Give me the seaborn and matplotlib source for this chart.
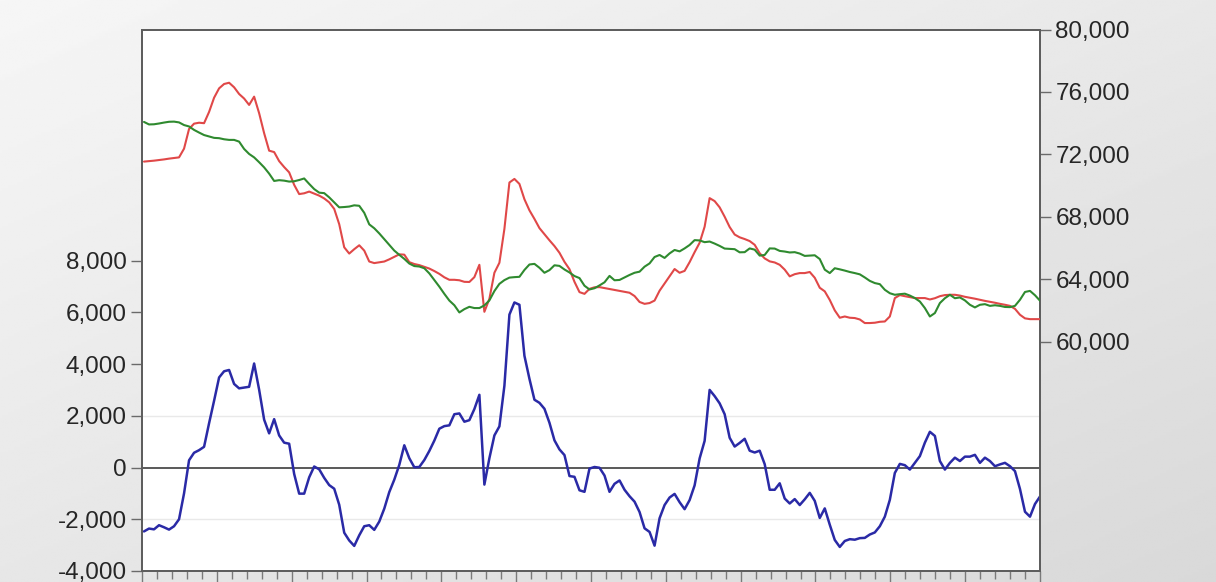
import numpy as np
import pandas as pd
import matplotlib
matplotlib.use("Agg")
import matplotlib.pyplot as plt
import seaborn as sns
from matplotlib.ticker import FuncFormatter, FixedLocator

sns.set_theme(style="white")
plt.rcParams["font.family"] = ["Liberation Sans", "DejaVu Sans"]

# Actual series (right axis)
actual = [
    71540, 71570, 71600, 71640, 71680, 71730, 71770, 71810, 72370, 73630,
    73970, 74030, 74000, 74720, 75630, 76230, 76510, 76590, 76300, 75870,
    75580, 75170, 75700, 74640, 73360, 72240, 72150, 71570, 71190, 70850,
    70050, 69460, 69510, 69620, 69490, 69360, 69180, 68930, 68510, 67530,
    66050, 65650, 65930, 66180, 65840, 65140, 65040, 65090, 65140, 65280,
    65440, 65600, 65580, 65100, 64980, 64910, 64800, 64690, 64530, 64350,
    64130, 63970, 63970, 63940, 63840, 63830, 64140, 64930, 61920, 62750,
    64420, 65060, 67230, 70200, 70430, 70110, 69130, 68420, 67870, 67280,
    66890, 66500, 66130, 65700, 65120, 64650, 63840, 63180, 63070, 63390,
    63490, 63500, 63440, 63380, 63320, 63260, 63200, 63140, 62930, 62550,
    62430, 62480, 62640, 63270, 63730, 64180, 64660, 64420, 64540, 65100,
    65740, 66340, 67370, 69200, 69010, 68610, 68010, 67350, 66870, 66690,
    66580, 66450, 66210, 65670, 65340, 65150, 65080, 64930, 64620, 64190,
    64330, 64400, 64400, 64470, 64100, 63460, 63230, 62680, 62010, 61540,
    61620, 61540, 61520, 61430, 61200, 61200, 61220, 61280, 61300, 61620,
    62800, 62990, 62920, 62860, 62800, 62800, 62800, 62710, 62790, 62920,
    62990, 63010, 63010, 62960, 62880, 62820, 62760, 62690, 62620, 62560,
    62500, 62430, 62370, 62300, 62110, 61730, 61500, 61450, 61450, 61450,
]

# Fitted series (right axis)
fitted = [
    74080, 73920, 73930, 73980, 74040, 74090, 74100, 74050, 73880, 73790,
    73570, 73400, 73240, 73150, 73060, 73040, 72970, 72930, 72930, 72820,
    72350, 72030, 71810, 71500, 71170, 70770, 70300, 70350, 70320, 70260,
    70280, 70360, 70460, 70110, 69780, 69550, 69520, 69250, 68930, 68610,
    68630, 68660, 68740, 68710, 68260, 67520, 67270, 66940, 66570, 66210,
    65840, 65570, 65310, 65010, 64850, 64820, 64710, 64380, 63960, 63530,
    63070, 62640, 62340, 61880, 62090, 62240, 62160, 62160, 62330, 62650,
    63250, 63710, 63950, 64110, 64140, 64160, 64600, 64950, 64990, 64740,
    64420, 64590, 64900, 64860, 64630, 64440, 64210, 64080, 63590, 63350,
    63430, 63610, 63810, 64220, 63940, 63960, 64120, 64280, 64420, 64490,
    64810, 65020, 65430, 65560, 65370, 65660, 65880, 65790, 65980, 66200,
    66510, 66490, 66380, 66420, 66290, 66140, 65970, 65950, 65930, 65730,
    65740, 65980, 65900, 65520, 65560, 65980, 65970, 65820, 65780, 65720,
    65740, 65650, 65500, 65520, 65540, 65300, 64620, 64400, 64710, 64640,
    64560, 64470, 64400, 64320, 64120, 63900, 63760, 63690, 63330, 63110,
    63010, 63050, 63080, 62960, 62800, 62580, 62160, 61620, 61840, 62480,
    62790, 63010, 62790, 62840, 62650, 62370, 62200, 62370, 62410, 62300,
    62340, 62300, 62230, 62220, 62300, 62690, 63190, 63260, 62980, 62630,
]

# Residual series (left axis)
residual = [
    -2470, -2360, -2390, -2230, -2310, -2400, -2270, -2000, -1000, 280,
    570, 670, 800, 1710, 2580, 3480, 3720, 3770, 3230, 3060,
    3090, 3120, 4020, 3010, 1850, 1320, 1870, 1240, 960, 920,
    -250, -1010, -1010, -380, 40, -70, -400, -680, -820, -1440,
    -2520, -2820, -3030, -2620, -2270, -2230, -2410, -2090, -1590, -950,
    -470, 100, 860, 360, 10, 20, 290, 640, 1040, 1500,
    1600, 1630, 2060, 2090, 1770, 1830, 2260, 2810, -660, 360,
    1240, 1590, 3160, 5910, 6380, 6290, 4320, 3430, 2620, 2500,
    2270, 1730, 1050, 700, 480, -330, -360, -880, -940, -40,
    20, -10, -310, -940, -630, -500, -860, -1110, -1320, -1720,
    -2350, -2490, -3020, -1960, -1450, -1160, -1020, -1340, -1610, -1260,
    -690, 350, 1030, 3000, 2760, 2480, 2060, 1150, 810, 950,
    1110, 650, 580, 650, 130, -860, -860, -610, -1200, -1390,
    -1220, -1450, -1230, -980, -1290, -1950, -1580, -2210, -2800, -3070,
    -2840, -2770, -2790, -2730, -2720, -2590, -2510, -2270, -1900, -1250,
    -210, 140, 90, -80, 180, 440, 960, 1380, 1220, 250,
    -80, 180, 380, 250, 420, 420, 490, 180, 380, 250,
    50, 120, 180, 50, -140, -830, -1710, -1900, -1410, -1120,
]

left_ticks = [-4000, -2000, 0, 2000, 4000, 6000, 8000]
right_ticks = [60000, 64000, 68000, 72000, 76000, 80000]
residual_bands = [-2000, 2000]

obs = np.arange(len(actual))
df = pd.DataFrame({"obs": obs, "Actual": actual, "Fitted": fitted, "Residual": residual})

W, H = 1216, 582
fig = plt.figure(figsize=(W / 100, H / 100), dpi=100)

# soft grey backdrop behind the plot frame
bg = fig.add_axes([0, 0, 1, 1], zorder=-10)
yy, xx = np.mgrid[0:1:200j, 0:1:400j]
shade = 0.965 - 0.055 * xx - 0.06 * yy
bg.imshow(shade, cmap="gray", vmin=0, vmax=1, aspect="auto",
          extent=[0, 1, 0, 1], origin="upper")
bg.axis("off")

ax = fig.add_axes([142 / W, 1 - 571 / H, (1040 - 142) / W, (571 - 29.5) / H])
ax.set_facecolor("white")
ax2 = ax.twinx()

frame_col = "#5e5e5e"
text_col = "#262626"
fmt = FuncFormatter(lambda v, p: f"{int(round(v)):,}")

# residual panel (left scale)
for b in residual_bands:
    ax.axhline(b, color="#e9e9e9", lw=1.0, zorder=0)
ax.axhline(0, color="#595959", lw=1.4, zorder=1)
sns.lineplot(data=df, x="obs", y="Residual", ax=ax, color="#2a2aa6",
             lw=1.8, zorder=3, legend=False)

# actual and fitted (right scale)
sns.lineplot(data=df, x="obs", y="Actual", ax=ax2, color="#e04848",
             lw=1.5, zorder=3, legend=False)
sns.lineplot(data=df, x="obs", y="Fitted", ax=ax2, color="#2f8a2f",
             lw=1.5, zorder=4, legend=False)

x0, x1 = -0.4, len(actual) - 1
ax.set_xlim(x0, x1)
ax.set_ylim(-4000, 16930)
ax2.set_ylim(45320, 80000)

ax.set_yticks(left_ticks)
ax.yaxis.set_major_formatter(fmt)
ax2.set_yticks(right_ticks)
ax2.yaxis.set_major_formatter(fmt)

# period ticks along the bottom: 60 intervals, a long tick every fifth
edges = np.linspace(x0, x1, 61)
ax.xaxis.set_major_locator(FixedLocator(edges[::5]))
ax.xaxis.set_minor_locator(FixedLocator(np.delete(edges, np.arange(0, 61, 5))))
ax.set_xticklabels([])

ax.tick_params(axis="y", which="both", left=True, right=False, direction="out",
               length=8, width=1, color="#6a6a6a", labelcolor=text_col,
               labelsize=17.5, pad=3)
ax2.tick_params(axis="y", which="both", right=True, left=False, direction="out",
                length=8, width=1, color="#6a6a6a", labelcolor=text_col,
                labelsize=17.5, pad=3)
ax.tick_params(axis="x", which="major", bottom=True, top=False, direction="out",
               length=10, width=1, color="#7a7a7a")
ax.tick_params(axis="x", which="minor", bottom=True, top=False, direction="out",
               length=6, width=1, color="#7a7a7a")
ax2.tick_params(axis="x", bottom=False, top=False, labelbottom=False)

for a in (ax, ax2):
    a.set_xlabel("")
    a.set_ylabel("")
    for s in a.spines.values():
        s.set_visible(True)
        s.set_color(frame_col)
        s.set_linewidth(1.4)

fig.savefig("out.png", dpi=100)
